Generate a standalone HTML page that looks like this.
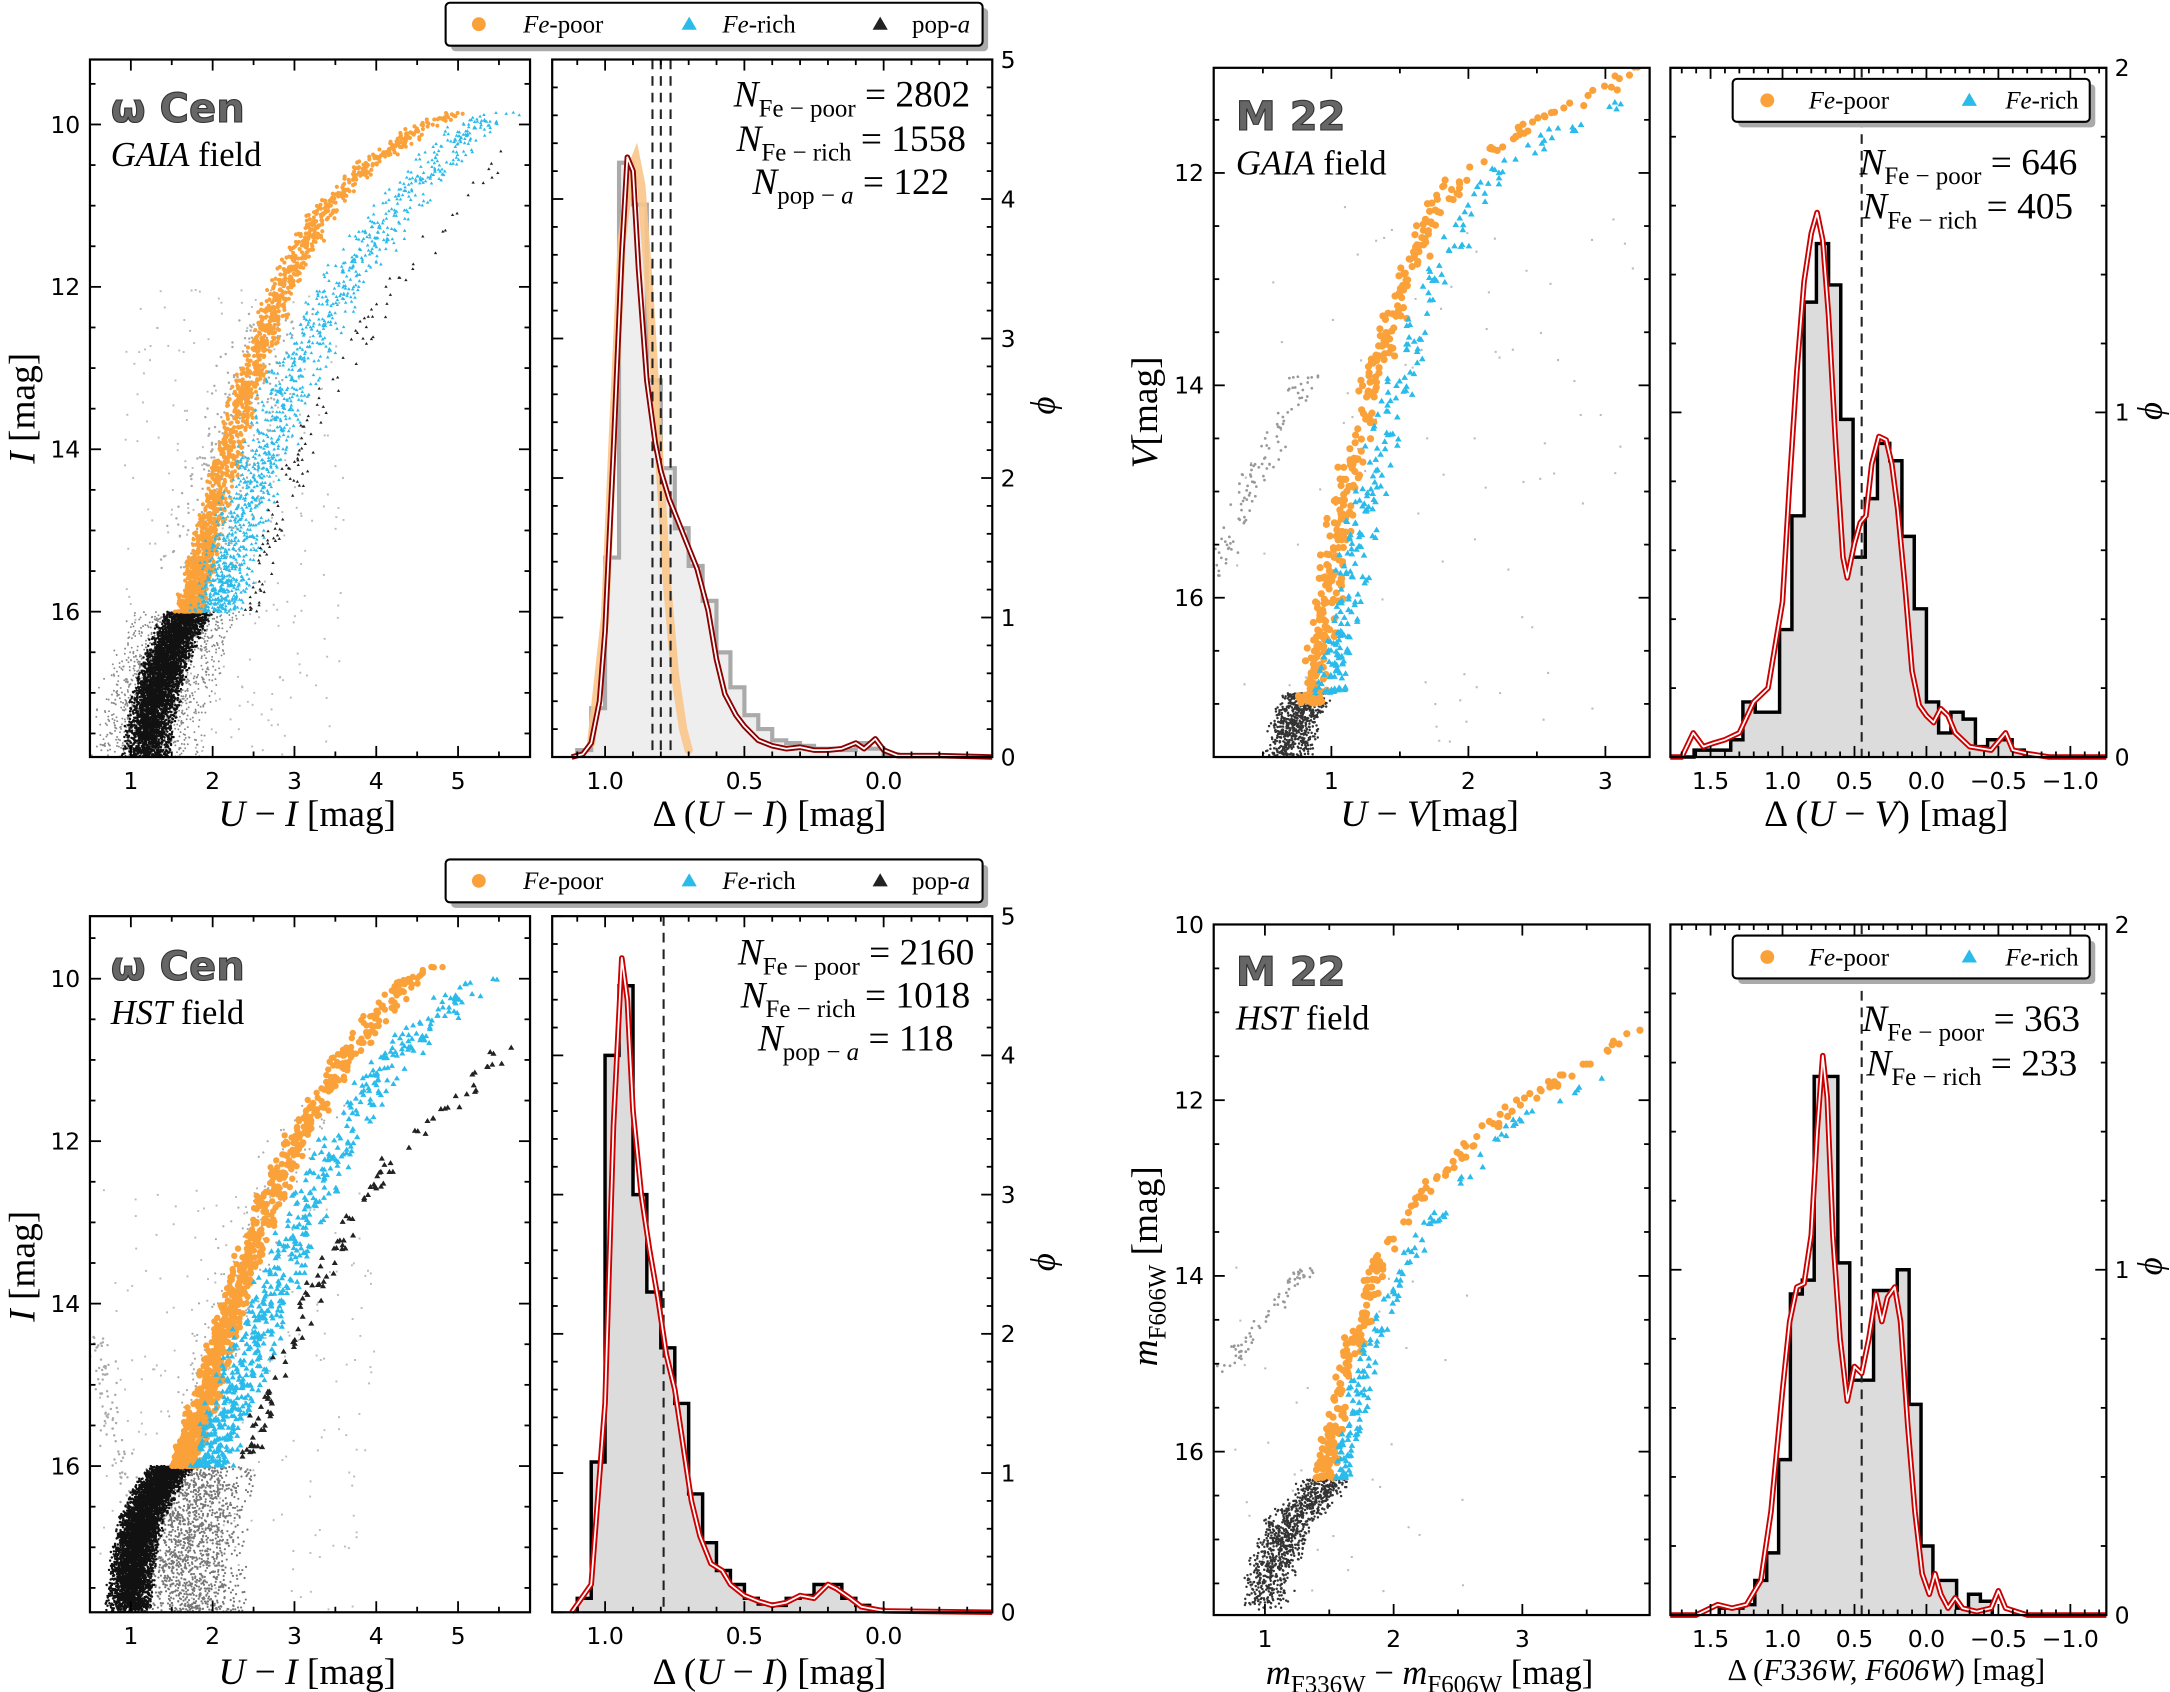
<!DOCTYPE html>
<html><head><meta charset="utf-8">
<style>
html,body{margin:0;padding:0;background:#fff;}
svg{display:block;}
.tk{font-family:"DejaVu Sans","Liberation Sans",sans-serif;font-size:17px;fill:#000;}
.sf{font-family:"Liberation Serif",serif;fill:#000;}
.it{font-style:italic;}
</style></head>
<body>
<svg id="chart" xmlns="http://www.w3.org/2000/svg" width="2170" height="1692" viewBox="0 0 1568 1222.6">
<rect x="0" y="0" width="1568" height="1222.6" fill="#fff"/>
</svg>
<script>
// ---------------- DATA ----------------
const tlBinStart = 1.10;
const tlBinWidth = 0.05;
const tlHist = [0.05,0.35,1.43,4.26,3.96,2.7,2.07,1.64,1.37,1.12,0.75,0.5,0.3,0.2,0.12,0.1,0.08,0.06,0.06,0.05,0.1,0.06,0.02];
const tlKdeX = [1.12,1.08,1.05,1.02,1.0,0.97,0.94,0.92,0.9,0.88,0.85,0.82,0.8,0.77,0.73,0.7,0.67,0.63,0.6,0.57,0.53,0.5,0.45,0.4,0.35,0.3,0.25,0.2,0.15,0.1,0.07,0.03,0.0,-0.05,-0.2,-0.39];
const tlKdeY = [0,0.02,0.1,0.4,0.9,2.2,3.6,4.3,4.2,3.5,2.7,2.25,2.05,1.85,1.65,1.5,1.35,1.05,0.7,0.45,0.3,0.22,0.12,0.08,0.06,0.07,0.05,0.05,0.06,0.1,0.06,0.13,0.05,0.01,0.01,0];
const tlGaussX = [1.05,1.0,0.97,0.94,0.91,0.89,0.87,0.84,0.81,0.78,0.75,0.72,0.7];
const tlGaussY = [0.1,1.0,2.4,3.7,4.2,4.3,4.1,3.3,2.3,1.3,0.6,0.2,0.05];
const tlDashed = [0.83,0.80,0.765];
const blBinStart = 1.10;
const blBinWidth = 0.05;
const blHist = [0.1,1.08,4.0,4.5,3.0,2.3,1.9,1.5,0.85,0.5,0.3,0.2,0.1,0.06,0.05,0.1,0.12,0.2,0.2,0.1,0.05,0.02];
const blKdeX = [1.12,1.05,1.0,0.97,0.94,0.92,0.9,0.87,0.84,0.81,0.78,0.75,0.72,0.69,0.66,0.62,0.58,0.55,0.5,0.45,0.4,0.35,0.3,0.25,0.2,0.17,0.12,0.08,0.0,-0.39];
const blKdeY = [0,0.2,1.5,3.5,4.7,4.4,3.6,3.0,2.6,2.25,1.85,1.6,1.2,0.8,0.55,0.35,0.3,0.2,0.12,0.08,0.05,0.07,0.12,0.1,0.2,0.17,0.1,0.04,0.01,0];
const blDashed = [0.79];
const trBinStart = 1.70;
const trBinWidth = 0.085;
const trHist = [0.0,0.02,0.02,0.02,0.05,0.16,0.13,0.13,0.37,0.70,1.32,1.49,1.37,0.98,0.58,0.75,0.91,0.86,0.64,0.43,0.16,0.07,0.13,0.11,0.03,0.05,0.05,0.02];
const trKdeX = [1.78,1.7,1.62,1.55,1.48,1.4,1.3,1.2,1.1,1.0,0.95,0.9,0.85,0.8,0.76,0.72,0.68,0.63,0.58,0.55,0.5,0.46,0.42,0.38,0.33,0.28,0.24,0.2,0.15,0.1,0.05,0.0,-0.05,-0.1,-0.15,-0.2,-0.3,-0.45,-0.55,-0.6,-0.7,-0.85,-1.25];
const trKdeY = [0,0.0,0.07,0.03,0.04,0.05,0.07,0.16,0.2,0.45,0.8,1.12,1.38,1.52,1.58,1.5,1.28,0.9,0.58,0.52,0.62,0.68,0.7,0.85,0.93,0.92,0.85,0.72,0.5,0.25,0.15,0.12,0.1,0.14,0.12,0.07,0.03,0.02,0.07,0.02,0.01,0.0,0];
const trDashed = [0.45];
const brBinStart = 1.44;
const brBinWidth = 0.0825;
const brHist = [0.02,0.02,0.03,0.1,0.18,0.45,0.93,0.97,1.56,1.56,1.02,0.68,0.68,0.94,0.94,1.0,0.61,0.2,0.1,0.1,0.02,0.06,0.04];
const brKdeX = [1.78,1.6,1.45,1.35,1.25,1.15,1.08,1.0,0.95,0.9,0.85,0.8,0.76,0.72,0.69,0.65,0.6,0.55,0.5,0.45,0.4,0.35,0.31,0.27,0.22,0.18,0.13,0.08,0.03,-0.02,-0.06,-0.1,-0.15,-0.2,-0.25,-0.35,-0.45,-0.5,-0.55,-0.7,-1.25];
const brKdeY = [0,0.0,0.03,0.02,0.03,0.1,0.3,0.65,0.85,0.95,0.96,1.1,1.4,1.62,1.5,1.1,0.8,0.62,0.72,0.7,0.8,0.93,0.85,0.92,0.95,0.85,0.55,0.3,0.12,0.06,0.12,0.06,0.02,0.05,0.02,0.01,0.02,0.07,0.02,0,0];
const brDashed = [0.45];
const tlPoorMag = [16.0,15.0,14.0,13.0,12.0,11.0,10.5,10.0,9.85];
const tlPoorCol = [1.72,1.95,2.2,2.5,2.85,3.4,3.9,4.6,5.0];
const tlRichMag = [16.0,15.0,14.0,13.0,12.0,11.0,10.0,9.85];
const tlRichCol = [2.05,2.3,2.65,3.05,3.55,4.3,5.2,5.5];
const tlPopaMag = [16.0,15.0,14.0,13.5,13.0,12.5,12.0,11.5,11.0,10.5,10.3];
const tlPopaCol = [2.5,2.75,3.1,3.3,3.6,3.9,4.2,4.6,5.0,5.4,5.6];
const tlMsMag = [16.0,16.3,16.6,17.0,17.5,17.9];
const tlMsCol = [1.72,1.55,1.45,1.32,1.22,1.18];
const blPoorMag = [16.0,15.0,14.0,13.0,12.0,11.0,10.0,9.85];
const blPoorCol = [1.65,1.95,2.25,2.6,3.0,3.6,4.4,4.7];
const blRichMag = [16.0,15.0,14.0,13.0,12.0,11.0,10.2,10.0];
const blRichCol = [1.95,2.3,2.7,3.1,3.55,4.2,5.0,5.2];
const blPopaMag = [15.9,15.0,14.0,13.3,12.5,12.0,11.5,11.0,10.8];
const blPopaCol = [2.4,2.75,3.2,3.5,4.0,4.4,5.0,5.5,5.6];
const blMsMag = [16.0,16.3,16.7,17.2,17.8];
const blMsCol = [1.5,1.3,1.12,1.02,0.97];
const trPoorMag = [17.0,16.0,15.0,14.0,13.0,12.5,12.0,11.5,11.2,11.0];
const trPoorCol = [0.85,0.98,1.1,1.3,1.55,1.7,1.95,2.5,3.0,3.25];
const trRichMag = [16.9,16.0,15.0,14.0,13.0,12.5,12.0,11.6,11.3];
const trRichCol = [1.0,1.12,1.27,1.5,1.75,1.95,2.2,2.7,3.2];
const trMsMag = [17.0,17.25,17.5];
const trMsCol = [0.8,0.72,0.68];
const brPoorMag = [16.3,16.0,15.0,14.5,14.0,13.5,13.0,12.5,12.0,11.7,11.2];
const brPoorCol = [1.45,1.5,1.63,1.75,1.85,2.0,2.25,2.6,3.0,3.4,3.85];
const brRichMag = [16.3,16.0,15.0,14.5,14.0,13.5,13.0,12.5,12.2,11.7];
const brRichCol = [1.6,1.63,1.78,1.9,2.05,2.25,2.5,2.8,3.0,3.7];
const brMsMag = [16.4,16.8,17.2,17.5,17.8];
const brMsCol = [1.45,1.2,1.08,1.02,1.0];

// ---------------- HELPERS ----------------
const NS='http://www.w3.org/2000/svg';
const svg=document.getElementById('chart');
function mk(tag,attrs,parent){const e=document.createElementNS(NS,tag);for(const k in attrs)e.setAttribute(k,attrs[k]);(parent||svg).appendChild(e);return e;}
let seed=12345;
function rnd(){seed=(seed*1103515245+12345)%2147483648;return seed/2147483648;}
function interp(xs,ys,v){
  for(let i=0;i<xs.length-1;i++){const a=xs[i],b=xs[i+1];if((v>=a&&v<=b)||(v<=a&&v>=b)){const t=(v-a)/(b-a);return ys[i]+t*(ys[i+1]-ys[i]);}}
  return Math.abs(v-xs[0])<Math.abs(v-xs[xs.length-1])?ys[0]:ys[ys.length-1];
}
function axes(p){
  return {sx:v=>p.x0+(v-p.dx0)/(p.dx1-p.dx0)*(p.x1-p.x0), sy:v=>p.y0+(v-p.dy0)/(p.dy1-p.dy0)*(p.y1-p.y0)};
}
function frame(p,name){
  const g=mk('g',{});
  
  
  const A=axes(p);
  const lo=Math.min(p.dx0,p.dx1),hi=Math.max(p.dx0,p.dx1);
  for(let v=Math.ceil(lo/p.xmin)*p.xmin;v<=hi+1e-9;v+=p.xmin){
    const isM=Math.abs(v/p.xmaj-Math.round(v/p.xmaj))<1e-6,L=isM?8:4,x=A.sx(v);
    mk('line',{x1:x,y1:p.y1,x2:x,y2:p.y1-L,stroke:'#000','stroke-width':1.3},g);
    mk('line',{x1:x,y1:p.y0,x2:x,y2:p.y0+L,stroke:'#000','stroke-width':1.3},g);
  }
  const ylo=Math.min(p.dy0,p.dy1),yhi=Math.max(p.dy0,p.dy1);
  for(let v=Math.ceil(ylo/p.ymin-1e-9)*p.ymin;v<=yhi+1e-9;v+=p.ymin){
    const isM=Math.abs(v/p.ymaj-Math.round(v/p.ymaj))<1e-6,L=isM?8:4,y=A.sy(v);
    mk('line',{x1:p.x0,y1:y,x2:p.x0+L,y2:y,stroke:'#000','stroke-width':1.3},g);
    mk('line',{x1:p.x1,y1:y,x2:p.x1-L,y2:y,stroke:'#000','stroke-width':1.3},g);
  }
  mk('rect',{x:p.x0,y:p.y0,width:p.x1-p.x0,height:p.y1-p.y0,fill:'none',stroke:'#000','stroke-width':1.6},g);
  p.xlabels.forEach(s=>{const t=mk('text',{x:A.sx(parseFloat(s.replace('−','-'))),y:p.y1+23,'text-anchor':'middle',class:'tk'},g);t.textContent=s;});
  p.ylabels.forEach(s=>{const y=A.sy(parseFloat(s));const t=mk('text',{x:p.yside==='r'?p.x1+6:p.x0-7,y:y+6,'text-anchor':p.yside==='r'?'start':'end',class:'tk'},g);t.textContent=s;});
  return A;
}
function scatter(p,A,mags,cols,n,mlo,mhi,pw,spread,kind,color,size,name){
  const g=mk('g',{'clip-path':'url(#'+p.clip+')'});
  
  
  let s='';
  for(let i=0;i<n;i++){
    const m=mhi-(mhi-mlo)*Math.pow(rnd(),pw);
    const c=interp(mags,cols,m)+(rnd()+rnd()-1)*spread;
    const x=A.sx(c),y=A.sy(m);
    if(kind==='c'){s+='M'+(x-size).toFixed(1)+' '+y.toFixed(1)+'a'+size+' '+size+' 0 1 0 '+(2*size)+' 0a'+size+' '+size+' 0 1 0 '+(-2*size)+' 0z';}
    else{s+='M'+x.toFixed(1)+' '+(y-size).toFixed(1)+'l'+size+' '+(1.7*size).toFixed(1)+'h'+(-2*size)+'z';}
  }
  mk('path',{d:s,fill:color},g);
}
function field(p,A,n,clo,chi,mlo,mhi,color,size,name){
  const g=mk('g',{'clip-path':'url(#'+p.clip+')'});
  
  
  let s='';
  for(let i=0;i<n;i++){const x=A.sx(clo+(chi-clo)*rnd()),y=A.sy(mlo+(mhi-mlo)*rnd());s+='M'+x.toFixed(1)+' '+y.toFixed(1)+'h'+size+'v'+size+'h'+(-size)+'z';}
  mk('path',{d:s,fill:color},g);
}
function hist(p,A,start,w,vals,fill,stroke,sw,name){
  let d='M'+A.sx(start)+' '+A.sy(0);
  vals.forEach((v,i)=>{const xa=A.sx(start-i*w),xb=A.sx(start-(i+1)*w),y=A.sy(v);d+='L'+xa.toFixed(1)+' '+y.toFixed(1)+'L'+xb.toFixed(1)+' '+y.toFixed(1);});
  d+='L'+A.sx(start-vals.length*w).toFixed(1)+' '+A.sy(0);
  const h=mk('path',{d:d,fill:fill,stroke:stroke,'stroke-width':sw,'stroke-linejoin':'miter'});
  
  
}
function curve(A,xs,ys){let d='';xs.forEach((x,i)=>{d+=(i?'L':'M')+A.sx(x).toFixed(1)+' '+A.sy(ys[i]).toFixed(1);});return d;}
function kde(A,xs,ys,col,name){
  const g=mk('g',{});
  
  
  const d=curve(A,xs,ys);
  mk('path',{d:d,fill:'none',stroke:col,'stroke-width':4,'stroke-linejoin':'round'},g);
  mk('path',{d:d,fill:'none',stroke:'#fff','stroke-width':1.3,'stroke-linejoin':'round'},g);
}
function dashed(p,A,xs,name){
  xs.forEach(v=>{const l=mk('line',{x1:A.sx(v),y1:p.y0,x2:A.sx(v),y2:p.y1,stroke:'#222','stroke-width':1.5,'stroke-dasharray':'7,5'});
  
  });
}
function txt(x,y,html,attrs,name){const t=mk('text',Object.assign({x:x,y:y},attrs));t.innerHTML=html;
  
  return t;}

const defs=mk('defs',{});
function clip(id,p){const c=mk('clipPath',{id:id},defs);mk('rect',{x:p.x0,y:p.y0,width:p.x1-p.x0,height:p.y1-p.y0},c);}

// ---------------- PANELS ----------------
const P={
 tlc:{x0:65,x1:383,y0:43,y1:547,dx0:0.5,dx1:5.88,dy0:9.2,dy1:17.79,xmaj:1,xmin:0.5,ymaj:2,ymin:0.5,xlabels:['1','2','3','4','5'],ylabels:['10','12','14','16'],clip:'c1'},
 tlh:{x0:399,x1:717,y0:43,y1:547,dx0:1.19,dx1:-0.39,dy0:5,dy1:0,xmaj:0.5,xmin:0.1,ymaj:1,ymin:0.2,xlabels:['1.0','0.5','0.0'],ylabels:['0','1','2','3','4','5'],yside:'r',clip:'c2'},
 blc:{x0:65,x1:383,y0:662,y1:1165,dx0:0.5,dx1:5.88,dy0:9.23,dy1:17.8,xmaj:1,xmin:0.5,ymaj:2,ymin:0.5,xlabels:['1','2','3','4','5'],ylabels:['10','12','14','16'],clip:'c3'},
 blh:{x0:399,x1:717,y0:662,y1:1165,dx0:1.19,dx1:-0.39,dy0:5,dy1:0,xmaj:0.5,xmin:0.1,ymaj:1,ymin:0.2,xlabels:['1.0','0.5','0.0'],ylabels:['0','1','2','3','4','5'],yside:'r',clip:'c4'},
 trc:{x0:877,x1:1192,y0:49,y1:547,dx0:0.141,dx1:3.323,dy0:11.01,dy1:17.5,xmaj:1,xmin:0.5,ymaj:2,ymin:0.5,xlabels:['1','2','3'],ylabels:['12','14','16'],clip:'c5'},
 trh:{x0:1207,x1:1522,y0:49,y1:547,dx0:1.779,dx1:-1.25,dy0:2,dy1:0,xmaj:0.5,xmin:0.1,ymaj:1,ymin:0.2,xlabels:['1.5','1.0','0.5','0.0','−0.5','−1.0'],ylabels:['0','1','2'],yside:'r',clip:'c6'},
 brc:{x0:877,x1:1192,y0:668,y1:1167,dx0:0.602,dx1:3.989,dy0:10,dy1:17.86,xmaj:1,xmin:0.5,ymaj:2,ymin:0.5,xlabels:['1','2','3'],ylabels:['10','12','14','16'],clip:'c7'},
 brh:{x0:1207,x1:1522,y0:668,y1:1167,dx0:1.779,dx1:-1.25,dy0:2,dy1:0,xmaj:0.5,xmin:0.1,ymaj:1,ymin:0.2,xlabels:['1.5','1.0','0.5','0.0','−0.5','−1.0'],ylabels:['0','1','2'],yside:'r',clip:'c8'}
};
for(const k in P)clip(P[k].clip,P[k]);
const OR='#fba13a',CY='#2bbbeb';

// TL CMD
let A=axes(P.tlc);
field(P.tlc,A,260,0.9,3.6,12.0,17.8,'#bbb',1.4,'field-stars');
scatter(P.tlc,A,tlPoorMag,tlPoorCol,300,12.3,15.5,1,0.55,'c','#aaa',0.9,'subgiant-gray');
scatter(P.tlc,A,tlMsMag,tlMsCol,1500,16.0,17.9,0.9,0.75,'c','#888',0.7,'main-sequence-wide');
scatter(P.tlc,A,tlMsMag,tlMsCol,4200,16.0,17.9,0.8,0.32,'c','#111',0.9,'main-sequence');
scatter(P.tlc,A,tlPoorMag,tlPoorCol,1700,9.85,16.0,1.6,0.2,'c',OR,1.5,'fe-poor-stars');
scatter(P.tlc,A,tlRichMag,tlRichCol,1300,9.85,16.0,1.5,0.38,'t',CY,1.3,'fe-rich-stars');
scatter(P.tlc,A,tlPopaMag,tlPopaCol,122,10.3,16.0,1.2,0.2,'t','#222',1.2,'pop-a-stars');
frame(P.tlc,'cmd-omega-cen-gaia');
A=axes(P.tlh);
hist(P.tlh,A,tlBinStart,tlBinWidth,tlHist,'#eeeeee','#aaa',3,'histogram-omega-gaia');
mk('path',{d:curve(A,tlGaussX,tlGaussY),fill:'none',stroke:'#f9c58a','stroke-width':6,'stroke-linecap':'round','opacity':0.9});
dashed(P.tlh,A,tlDashed,'divider-line');
kde(A,tlKdeX,tlKdeY,'#8b0000','kde-omega-gaia');
frame(P.tlh,'hist-omega-cen-gaia');

// BL CMD
A=axes(P.blc);
field(P.blc,A,200,0.6,4.0,12.5,17.8,'#bbb',1.4,'field-stars');
scatter(P.blc,A,[16.5,15.5,14.6],[1.0,0.75,0.6],90,14.4,16.5,1,0.2,'c','#aaa',0.9,'foreground-sequence');
scatter(P.blc,A,[16.0,16.6,17.2,17.8],[1.9,1.75,1.7,1.75],1500,16.0,17.8,1,0.75,'c','#777',0.8,'second-sequence');
scatter(P.blc,A,blMsMag,blMsCol,5000,16.0,17.8,0.8,0.3,'c','#111',0.9,'main-sequence');
scatter(P.blc,A,blPoorMag,blPoorCol,200,11.5,15.5,1,0.5,'c','#aaa',0.8,'subgiant-gray');
scatter(P.blc,A,blPoorMag,blPoorCol,900,9.85,16.0,1.6,0.2,'c',OR,2.3,'fe-poor-stars');
scatter(P.blc,A,blRichMag,blRichCol,650,10.0,16.0,1.5,0.35,'t',CY,2.2,'fe-rich-stars');
scatter(P.blc,A,blPopaMag,blPopaCol,118,10.8,15.9,1.2,0.18,'t','#222',2.2,'pop-a-stars');
frame(P.blc,'cmd-omega-cen-hst');
A=axes(P.blh);
hist(P.blh,A,blBinStart,blBinWidth,blHist,'#dcdcdc','#000',2.5,'histogram-omega-hst');
dashed(P.blh,A,blDashed,'divider-line');
kde(A,blKdeX,blKdeY,'#cc0000','kde-omega-hst');
frame(P.blh,'hist-omega-cen-hst');

// TR CMD
A=axes(P.trc);
field(P.trc,A,90,0.3,3.2,12.3,17.5,'#bbb',1.5,'field-stars');
scatter(P.trc,A,[15.8,15.0,14.3,14.0],[0.15,0.4,0.65,0.8],110,13.9,15.8,1,0.12,'c','#999',1,'foreground-sequence');
scatter(P.trc,A,trMsMag,trMsCol,700,16.9,17.5,0.8,0.2,'c','#333',0.9,'main-sequence');
scatter(P.trc,A,trPoorMag,trPoorCol,380,11.0,17.0,1.5,0.12,'c',OR,2.6,'fe-poor-stars');
scatter(P.trc,A,trRichMag,trRichCol,260,11.3,16.9,1.5,0.15,'t',CY,2.4,'fe-rich-stars');
frame(P.trc,'cmd-m22-gaia');
A=axes(P.trh);
hist(P.trh,A,trBinStart,trBinWidth,trHist,'#dcdcdc','#000',2.5,'histogram-m22-gaia');
dashed(P.trh,A,trDashed,'divider-line');
kde(A,trKdeX,trKdeY,'#cc0000','kde-m22-gaia');
frame(P.trh,'hist-m22-gaia');

// BR CMD
A=axes(P.brc);
field(P.brc,A,40,0.7,2.6,13.5,17.8,'#bbb',1.5,'field-stars');
scatter(P.brc,A,[15.1,14.5,14.0],[0.65,1.0,1.3],70,13.9,15.1,1,0.1,'c','#999',1,'foreground-sequence');
scatter(P.brc,A,brMsMag,brMsCol,1000,16.3,17.8,0.7,0.22,'c','#333',0.9,'main-sequence');
scatter(P.brc,A,brPoorMag,brPoorCol,230,11.2,16.3,1.5,0.1,'c',OR,2.6,'fe-poor-stars');
scatter(P.brc,A,brRichMag,brRichCol,160,11.7,16.3,1.5,0.1,'t',CY,2.4,'fe-rich-stars');
frame(P.brc,'cmd-m22-hst');
A=axes(P.brh);
hist(P.brh,A,brBinStart,brBinWidth,brHist,'#dcdcdc','#000',2.5,'histogram-m22-hst');
dashed(P.brh,A,brDashed,'divider-line');
kde(A,brKdeX,brKdeY,'#cc0000','kde-m22-hst');
frame(P.brh,'hist-m22-hst');

// ---------------- TEXT ----------------
function cluster(x,y,name,fieldHtml,id){
  txt(x,y,name,{'font-family':'"DejaVu Sans",sans-serif','font-weight':'bold','font-size':'29','fill':'#666','stroke':'#333','stroke-width':'0.8'},id+'-cluster-name');
  txt(x,y+32,fieldHtml,{class:'sf','font-size':'25'},id+'-field-label');
}
cluster(80,88,'ω Cen','<tspan font-style="italic">GAIA</tspan> field','tl');
cluster(80,708,'ω Cen','<tspan font-style="italic">HST</tspan> field','bl');
cluster(893,94,'M 22','<tspan font-style="italic">GAIA</tspan> field','tr');
cluster(893,712,'M 22','<tspan font-style="italic">HST</tspan> field','br');

function N(x,y,sub,val,id){
  txt(x,y,'<tspan font-style="italic">N</tspan><tspan font-size="18" dy="7">'+sub+'</tspan><tspan dy="-7"> = '+val+'</tspan>',{class:'sf','font-size':'27','text-anchor':'end'},id);
}
N(701,77,'Fe − poor','2802','count-fe-poor');N(698,109,'Fe − rich','1558','count-fe-rich');N(686,140,'pop − <tspan font-style="italic">a</tspan>','122','count-pop-a');
N(704,697,'Fe − poor','2160','count-fe-poor');N(701,728,'Fe − rich','1018','count-fe-rich');N(689,759,'pop − <tspan font-style="italic">a</tspan>','118','count-pop-a');
N(1501,126,'Fe − poor','646','count-fe-poor');N(1498,158,'Fe − rich','405','count-fe-rich');
N(1503,745,'Fe − poor','363','count-fe-poor');N(1501,777,'Fe − rich','233','count-fe-rich');

const AL={class:'sf','font-size':'27','text-anchor':'middle'};
txt(222,597,'<tspan font-style="italic">U</tspan> − <tspan font-style="italic">I</tspan> [mag]',AL,'x-axis-title');
txt(556,597,'Δ (<tspan font-style="italic">U</tspan> − <tspan font-style="italic">I</tspan>) [mag]',AL,'x-axis-title');
txt(222,1217,'<tspan font-style="italic">U</tspan> − <tspan font-style="italic">I</tspan> [mag]',AL,'x-axis-title');
txt(556,1217,'Δ (<tspan font-style="italic">U</tspan> − <tspan font-style="italic">I</tspan>) [mag]',AL,'x-axis-title');
txt(1033,597,'<tspan font-style="italic">U</tspan> − <tspan font-style="italic">V</tspan>[mag]',AL,'x-axis-title');
txt(1363,597,'Δ (<tspan font-style="italic">U</tspan> − <tspan font-style="italic">V</tspan>) [mag]',AL,'x-axis-title');
txt(1033,1217,'<tspan font-style="italic">m</tspan><tspan font-size="18" dy="6">F336W</tspan><tspan dy="-6"> − </tspan><tspan font-style="italic">m</tspan><tspan font-size="18" dy="6">F606W</tspan><tspan dy="-6"> [mag]</tspan>',{class:'sf','font-size':'25','text-anchor':'middle'},'x-axis-title');
txt(1363,1214,'Δ (<tspan font-style="italic">F336W, F606W</tspan>) [mag]',{class:'sf','font-size':'22','text-anchor':'middle'},'x-axis-title');
function yl(x,y,html,id,fs){txt(0,0,html,{class:'sf','font-size':fs||27,'text-anchor':'middle',transform:'translate('+x+','+y+') rotate(-90)'},id);}
yl(25,295,'<tspan font-style="italic">I</tspan> [mag]','y-axis-title');
yl(25,915,'<tspan font-style="italic">I</tspan> [mag]','y-axis-title');
yl(836,298,'<tspan font-style="italic">V</tspan>[mag]','y-axis-title');
yl(836,915,'<tspan font-style="italic">m</tspan><tspan font-size="18" dy="6">F606W</tspan><tspan dy="-6"> [mag]</tspan>','y-axis-title');
yl(762,293,'<tspan font-style="italic">ϕ</tspan>','phi-axis-title',25);
yl(762,912,'<tspan font-style="italic">ϕ</tspan>','phi-axis-title',25);
yl(1562,297,'<tspan font-style="italic">ϕ</tspan>','phi-axis-title',25);
yl(1562,915,'<tspan font-style="italic">ϕ</tspan>','phi-axis-title',25);

function legend(x,y,w,entries,id){
  const g=mk('g',{});
  
  
  mk('rect',{x:x+4,y:y+4,width:w,height:31,rx:3,fill:'#aaa'},g);
  mk('rect',{x:x,y:y,width:w,height:31,rx:3,fill:'#fff',stroke:'#000','stroke-width':1.5},g);
  entries.forEach(e=>{
    const cy=y+15.5;
    if(e.k==='c')mk('circle',{cx:e.mx,cy:cy,r:5,fill:e.c},g);
    else mk('path',{d:'M'+e.mx+' '+(cy-5.5)+'l5.5 9.5h-11z',fill:e.c},g);
    const t=mk('text',{x:e.tx,y:cy+6,class:'sf','font-size':'18'},g);t.innerHTML=e.t;
  });
}
const lg3=[{k:'c',c:OR,t:'<tspan font-style="italic">Fe</tspan>-poor'},{k:'t',c:CY,t:'<tspan font-style="italic">Fe</tspan>-rich'},{k:'t',c:'#222',t:'pop-<tspan font-style="italic">a</tspan>'}];
const lx3=[[346,378],[498,522],[636,659]];
legend(322,2,388,lg3.map((e,i)=>Object.assign({mx:lx3[i][0],tx:lx3[i][1]},e)),'legend-top');
legend(322,621,388,lg3.map((e,i)=>Object.assign({mx:lx3[i][0],tx:lx3[i][1]},e)),'legend-bottom');
const lx2=[[1277,1307],[1423,1449]];
legend(1252,57,258,lg3.slice(0,2).map((e,i)=>Object.assign({mx:lx2[i][0],tx:lx2[i][1]},e)),'legend-m22-gaia');
legend(1252,676,258,lg3.slice(0,2).map((e,i)=>Object.assign({mx:lx2[i][0],tx:lx2[i][1]},e)),'legend-m22-hst');
</script>
</body></html>
